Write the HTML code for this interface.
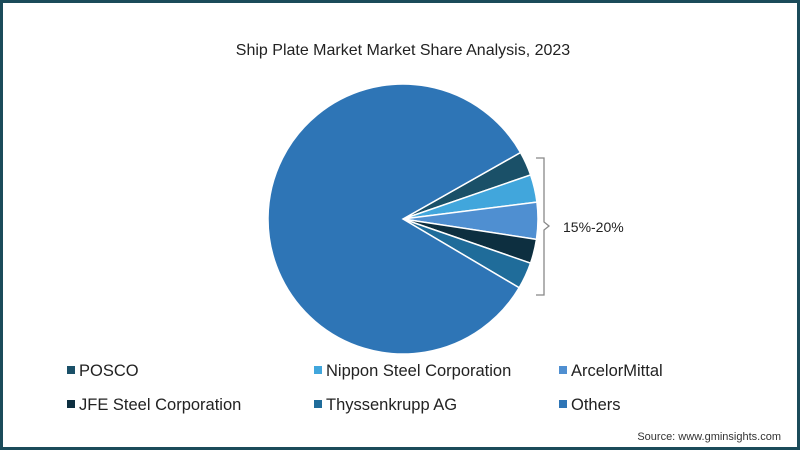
<!DOCTYPE html>
<html><head><meta charset="utf-8"><style>
html,body{margin:0;padding:0;background:#fff}
#frame{position:relative;width:800px;height:450px;box-sizing:border-box;border:3px solid #1b4b5a;background:#fff;font-family:"Liberation Sans",sans-serif;overflow:hidden}
svg{position:absolute;left:0;top:0}
</style></head><body>
<div id="frame">
<svg id="chart" width="800" height="450" viewBox="0 0 800 450">
<text x="400" y="52" text-anchor="middle" font-size="16" fill="#222">Ship Plate Market Market Share Analysis, 2023</text>
<g id="slices"></g>
<path d="M533,155 L541,155 L541,219 L546,223 L541,227 L541,292 L533,292" fill="none" stroke="#888" stroke-width="1.3"/>
<text x="560" y="229" font-size="14" fill="#222">15%-20%</text>
<g id="legend"></g>
<text x="778" y="437" text-anchor="end" font-size="11" fill="#333">Source: www.gminsights.com</text>
</svg>
</div>
<script>
const categories = ["POSCO","Nippon Steel Corporation","ArcelorMittal","JFE Steel Corporation","Thyssenkrupp AG","Others"];
const shares = [2.9, 3.3, 4.4, 2.9, 3.2, 83.3];
const colors = ["#1a5068","#41a6dc","#4f8fd1","#0d2f40","#1f6c9a","#2e75b6"];
const NS="http://www.w3.org/2000/svg";
const cx=400, cy=216, r=135, startDeg=-29.5;
const total=shares.reduce((a,b)=>a+b,0);
function angleOf(v){return v/total*360;}
function pt(deg){const a=deg*Math.PI/180;return [cx+r*Math.cos(a), cy+r*Math.sin(a)];}
const g=document.getElementById('slices');
let a0=startDeg;
shares.forEach((v,i)=>{
  const a1=a0+angleOf(v);
  const p0=pt(a0), p1=pt(a1);
  const large=(a1-a0)>180?1:0;
  const path=document.createElementNS(NS,'path');
  path.setAttribute('d',`M${cx},${cy} L${p0[0]},${p0[1]} A${r},${r} 0 ${large} 1 ${p1[0]},${p1[1]} Z`);
  path.setAttribute('fill',colors[i]);
  path.setAttribute('stroke','#fff');
  path.setAttribute('stroke-width','1.5');
  
  
  g.appendChild(path);
  a0=a1;
});
const lg=document.getElementById('legend');
const colX=[64,311,556], rowY=[367,401];
categories.forEach((c,i)=>{
  const x=colX[i%3], y=rowY[Math.floor(i/3)];
  const item=document.createElementNS(NS,'g');
  
  
  const s=document.createElementNS(NS,'rect');
  s.setAttribute('x',x);s.setAttribute('y',y-4);s.setAttribute('width',8);s.setAttribute('height',8);
  s.setAttribute('fill',colors[i]);
  
  
  const t=document.createElementNS(NS,'text');
  t.setAttribute('x',x+12);t.setAttribute('y',y+6);t.setAttribute('font-size','16.5');t.setAttribute('fill','#222');
  t.textContent=c;
  
  
  item.appendChild(s);item.appendChild(t);lg.appendChild(item);
});
</script>
</body></html>
